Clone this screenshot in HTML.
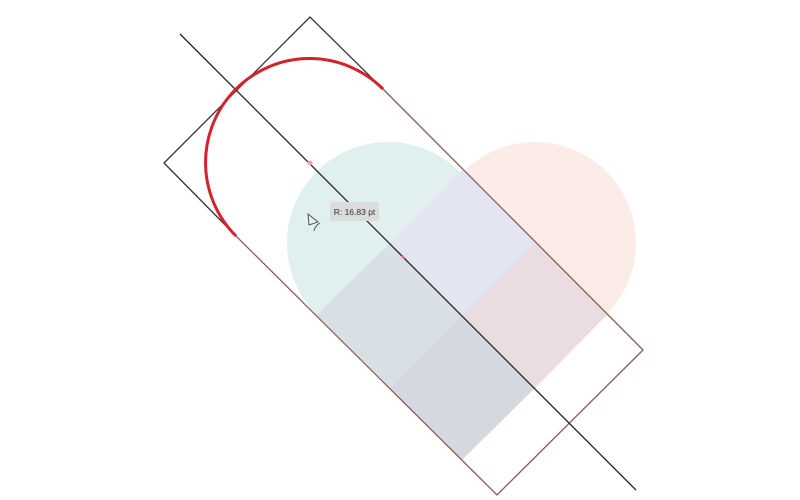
<!DOCTYPE html>
<html><head><meta charset="utf-8"><style>
html,body{margin:0;padding:0;background:#fff;width:800px;height:500px;overflow:hidden}
</style></head><body>
<svg width="800" height="500" viewBox="0 0 800 500">
  <circle cx="388" cy="243" r="101" fill="#dff0ee"/>
  <circle cx="535" cy="243" r="101" fill="#fcece7"/>
  <polygon points="462,170 535,243 462,315 390,243" fill="#e3e6f2"/>
  <polygon points="535,243 607,315 535,388 462,315" fill="#eadde1"/>
  <polygon points="462,315 535,388 462,460 390,388" fill="#d4d8e0"/>
  <polygon points="390,243 462,315 390,388 317,315" fill="#d8dfe5"/>
  <g fill="none" stroke-width="1.3">
    <polyline points="383,89 310,17 164,163 236,236" stroke="#333"/>
    <polyline points="383,89 643,350 497,495 236,236" stroke="#8a5a58"/>
    <line x1="180" y1="34" x2="636" y2="490" stroke="#222"/>
  </g>
  <path d="M383,89 A100,100 0 0 0 236,236" fill="none" stroke="#d6202a" stroke-width="3"/>
  <circle cx="310" cy="163" r="2.5" fill="#f0a0a8"/>
  <circle cx="403" cy="257" r="1.5" fill="#f07078"/>
  <rect x="330" y="202" width="49" height="19" rx="2" fill="#dcdcdc"/>
  <text x="354.5" y="215" text-anchor="middle" font-family="Liberation Sans, sans-serif" font-size="8.5" fill="#333">R: 16.83 pt</text>
  <g fill="none" stroke="#555" stroke-width="1">
    <path d="M308,214 L309,225 L318,222 Z"/>
    <path d="M320,223 Q315,226 314,231"/>
  </g>
</svg>
</body></html>
